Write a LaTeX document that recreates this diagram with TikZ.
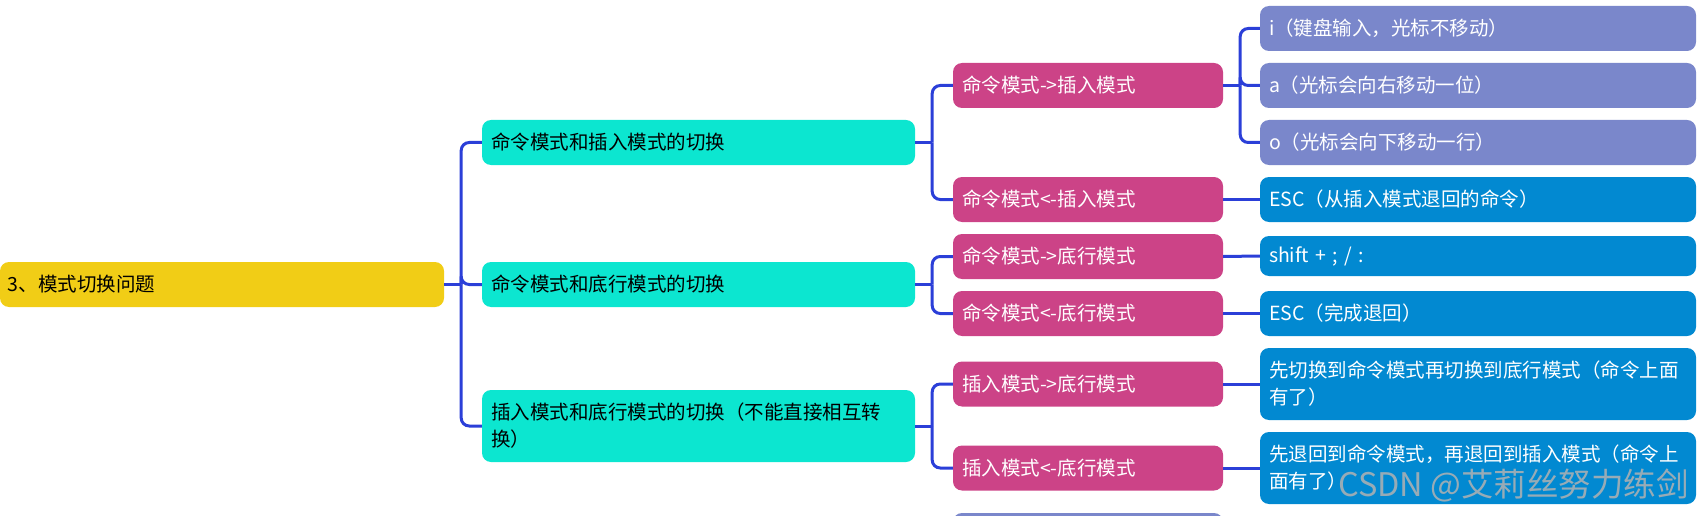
\documentclass[tikz,border=0pt]{standalone}
\usepackage{fontspec}
\usetikzlibrary{calc}
\setmainfont{Noto Sans CJK SC}
\definecolor{rootc}{HTML}{F1CD16}
\definecolor{tealc}{HTML}{0CE6D0}
\definecolor{magc}{HTML}{CC4387}
\definecolor{purc}{HTML}{7A87CB}
\definecolor{bluc}{HTML}{0289D1}
\definecolor{linec}{HTML}{2B3FD8}
\tikzset{
  box/.style={rectangle, rounded corners=9pt, inner xsep=9pt, inner ysep=0pt, align=left,
    font=\fontsize{19.5}{27}\selectfont, anchor=center},
  rootbox/.style={box, fill=rootc, text=black, inner xsep=8pt, text width=428pt, minimum height=45pt},
  l1box/.style={box, fill=tealc, text=black, text width=415pt, minimum height=45pt},
  l2box/.style={box, fill=magc, text=white, text width=252pt, minimum height=45pt},
  l3box/.style={box, text=white, text width=418pt, minimum height=45pt},
  conn/.style={draw=linec, line width=3pt, rounded corners=8pt},
}
\begin{document}
\begin{tikzpicture}[x=1pt,y=-1pt]
\useasboundingbox (0,0) rectangle (1702,516);
% root
\node[rootbox] (root) at (222,284.5) {3、模式切换问题};
% level 1
\node[l1box] (t1) at (698.5,142.5) {命令模式和插入模式的切换};
\node[l1box] (t2) at (698.5,284.5) {命令模式和底行模式的切换};
\node[l1box, minimum height=72pt] (t3) at (698.5,426) {插入模式和底行模式的切换（不能直接相互转\\换）};
% level 2
\node[l2box] (m1) at (1088,85.5) {命令模式->插入模式};
\node[l2box] (m2) at (1088,199.5) {命令模式<-插入模式};
\node[l2box] (m3) at (1088,256.5) {命令模式->底行模式};
\node[l2box] (m4) at (1088,313.5) {命令模式<-底行模式};
\node[l2box] (m5) at (1088,384) {插入模式->底行模式};
\node[l2box] (m6) at (1088,468) {插入模式<-底行模式};
\node[box, fill=purc, minimum width=270pt, minimum height=45pt] (m7) at (1088,535.5) {};
% level 3
\node[l3box, fill=purc] (r1) at (1478,28.5) {i（键盘输入，光标不移动）};
\node[l3box, fill=purc] (r2) at (1478,85.5) {a（光标会向右移动一位）};
\node[l3box, fill=purc] (r3) at (1478,142.5) {o（光标会向下移动一行）};
\node[l3box, fill=bluc] (r4) at (1478,199.5) {ESC（从插入模式退回的命令）};
\node[l3box, fill=bluc, minimum height=40pt] (r5) at (1478,256) {shift + ; / :};
\node[l3box, fill=bluc] (r6) at (1478,313.5) {ESC（完成退回）};
\node[l3box, fill=bluc, minimum height=72pt] (r7) at (1478,384) {先切换到命令模式再切换到底行模式（命令上面\\有了）};
\node[l3box, fill=bluc, minimum height=72pt] (r8) at (1478,468) {先退回到命令模式，再退回到插入模式（命令上\\面有了）};
% junctions
\coordinate (j0) at ($(root.east)+(17,0)$);
\coordinate (j1) at ($(t1.east)+(17,0)$);
\coordinate (j2) at ($(t2.east)+(17,0)$);
\coordinate (j3) at ($(t3.east)+(17,0)$);
\coordinate (j4) at ($(m1.east)+(17,0)$);
% connectors
\draw[conn] (root.east) -- (j0);
\draw[conn] (j0) |- (t1.west);
\draw[conn] (j0) |- (t2.west);
\draw[conn] (j0) |- (t3.west);
\draw[conn] (t1.east) -- (j1);
\draw[conn] (j1) |- (m1.west);
\draw[conn] (j1) |- (m2.west);
\draw[conn] (t2.east) -- (j2);
\draw[conn] (j2) |- (m3.west);
\draw[conn] (j2) |- (m4.west);
\draw[conn] (t3.east) -- (j3);
\draw[conn] (j3) |- (m5.west);
\draw[conn] (j3) |- (m6.west);
\draw[conn] (m1.east) -- (j4);
\draw[conn] (j4) |- (r1.west);
\draw[conn] (j4) |- (r2.west);
\draw[conn] (j4) |- (r3.west);
\draw[conn] (m2.east) -- (r4.west);
\draw[conn] (m3.east) -- (r5.west);
\draw[conn] (m4.east) -- (r6.west);
\draw[conn] (m5.east) -- (r7.west);
\draw[conn] (m6.east) -- (r8.west);
% watermark
\node[anchor=base west, inner sep=0pt, text=gray!60, opacity=0.85, font=\fontsize{32.5}{33}\selectfont] (wm) at (1338,496) {CSDN @艾莉丝努力练剑};
\end{tikzpicture}
\end{document}
